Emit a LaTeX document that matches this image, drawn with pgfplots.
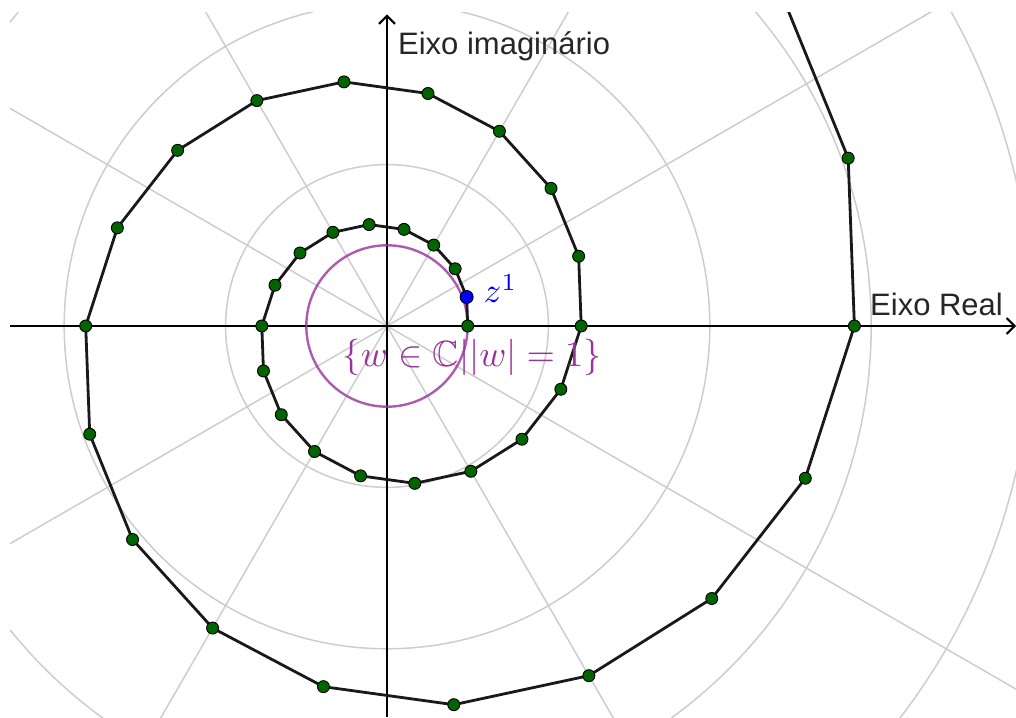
\documentclass[border=0pt]{standalone}
\usepackage{amssymb}
\usepackage{fontspec}
\usepackage{pgfplots}
\pgfplotsset{compat=1.18}
\usetikzlibrary{arrows.meta}
\newfontfamily\lbl{Liberation Sans}
\definecolor{ggreen}{RGB}{0,100,0}
\definecolor{gpurple}{RGB}{153,51,153}
\definecolor{ggrid}{RGB}{205,205,205}
\begin{document}
\begin{tikzpicture}
\useasboundingbox (-10pt,0pt) rectangle (1006pt,717pt);
\begin{axis}[
  at={(0pt,0pt)}, anchor=south west,
  x=80.7pt, y=80.7pt,
  xmin=-4.6716, xmax=7.7943, ymin=-4.8451, ymax=3.8786,
  hide axis, clip=true,
]
% polar grid
\draw[ggrid, line width=1.5pt] (axis cs:0,0) circle[radius=161.4pt];
\draw[ggrid, line width=1.5pt] (axis cs:0,0) circle[radius=322.8pt];
\draw[ggrid, line width=1.5pt] (axis cs:0,0) circle[radius=484.2pt];
\draw[ggrid, line width=1.5pt] (axis cs:0,0) circle[radius=645.6pt];
\draw[ggrid, line width=1.5pt] (axis cs:0,0) -- ++(30:1300pt);
\draw[ggrid, line width=1.5pt] (axis cs:0,0) -- ++(60:1300pt);
\draw[ggrid, line width=1.5pt] (axis cs:0,0) -- ++(120:1300pt);
\draw[ggrid, line width=1.5pt] (axis cs:0,0) -- ++(150:1300pt);
\draw[ggrid, line width=1.5pt] (axis cs:0,0) -- ++(210:1300pt);
\draw[ggrid, line width=1.5pt] (axis cs:0,0) -- ++(240:1300pt);
\draw[ggrid, line width=1.5pt] (axis cs:0,0) -- ++(300:1300pt);
\draw[ggrid, line width=1.5pt] (axis cs:0,0) -- ++(330:1300pt);
% axes
\draw[black, line width=2pt, -{Straight Barb[length=8pt,width=16pt]}] (axis cs:-4.6716,0) -- (axis cs:7.7943,0);
\draw[black, line width=2pt, -{Straight Barb[length=8pt,width=16pt]}] (axis cs:0,-4.8451) -- (axis cs:0,3.86);
% unit circle
\draw[gpurple, line width=2.4pt, opacity=0.8] (axis cs:0,0) circle[radius=80.7pt];
% spiral z^n, z = 1.05 e^{i 20deg}
\addplot[black!90, line width=2.8pt, mark=*, mark size=6pt,
  mark options={fill=ggreen, draw=black, line width=0.9pt}] coordinates {
(1,0) (0.98668,0.35912) (0.84456,0.70868) (0.57881,1.00254) (0.21107,1.19704)
(-0.22163,1.25690) (-0.67005,1.16057) (-1.07790,0.90447) (-1.38835,0.50532)
(-1.55133,0) (-1.53066,-0.55712) (-1.31019,-1.09939) (-0.89793,-1.55527)
(-0.32744,-1.85701) (0.34382,-1.94986) (1.03946,-1.80041) (1.67217,-1.40313)
(2.15379,-0.78391) (2.40662,0) (2.37455,0.86427) (2.03254,1.70553)
(1.39298,2.41271) (0.50797,2.88083) (-0.53337,3.02487) (-1.61255,2.79303)
(-2.59409,2.17670) (-3.34123,1.21611) (-3.73346,0) (-3.68371,-1.34076)
(-3.15312,-2.64581) (-2.16097,-3.74296) (-0.78803,-4.46911) (0.82743,-4.69256)
(2.50159,-4.33291) (4.02428,-3.37680) (5.18335,-1.88659) (5.79182,0)
(5.71463,2.07996) (4.89155,4.10455)
};
\addplot[only marks, mark=*, mark size=6.5pt,
  mark options={fill=blue, draw=black, line width=0.9pt}] coordinates {(0.98668,0.35912)};
% labels
\node[anchor=base west, inner sep=0pt, text=black!85, font=\lbl\fontsize{31}{36}\selectfont] at (axis cs:0.136,3.358) {Eixo imaginário};
\node[anchor=base west, inner sep=0pt, text=black!85, font=\lbl\fontsize{31}{36}\selectfont] at (axis cs:5.985,0.124) {Eixo Real};
\node[anchor=base west, inner sep=0pt, text=blue, scale=3.5] at (axis cs:1.19,0.285) {$z^1$};
\node[anchor=base west, inner sep=0pt, text=gpurple, scale=3.65] at (axis cs:-0.558,-0.508) {$\{w\in\mathbb{C}||w|=1\}$};
\end{axis}
\end{tikzpicture}
\end{document}
